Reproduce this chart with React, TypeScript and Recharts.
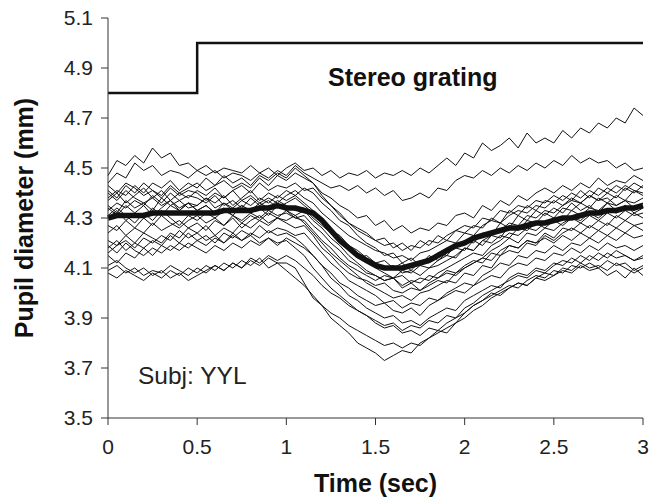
import { LineChart, Line, XAxis, YAxis, Label } from 'recharts';

// time in seconds, one sample every 50 ms
const times = [
  0, 0.05, 0.1, 0.15, 0.2, 0.25, 0.3, 0.35, 0.4, 0.45,
  0.5, 0.55, 0.6, 0.65, 0.7, 0.75, 0.8, 0.85, 0.9, 0.95,
  1, 1.05, 1.1, 1.15, 1.2, 1.25, 1.3, 1.35, 1.4, 1.45,
  1.5, 1.55, 1.6, 1.65, 1.7, 1.75, 1.8, 1.85, 1.9, 1.95,
  2, 2.05, 2.1, 2.15, 2.2, 2.25, 2.3, 2.35, 2.4, 2.45,
  2.5, 2.55, 2.6, 2.65, 2.7, 2.75, 2.8, 2.85, 2.9, 2.95,
  3,
];

// average over trials (thick line)
const meanTrace = [
  4.30, 4.31, 4.31, 4.31, 4.31, 4.32, 4.32, 4.32, 4.32, 4.32,
  4.32, 4.32, 4.32, 4.33, 4.33, 4.33, 4.33, 4.34, 4.34, 4.35,
  4.34, 4.34, 4.33, 4.32, 4.29, 4.25, 4.21, 4.18, 4.15, 4.13,
  4.11, 4.10, 4.10, 4.10, 4.11, 4.12, 4.13, 4.15, 4.17, 4.19,
  4.20, 4.22, 4.23, 4.24, 4.25, 4.26, 4.26, 4.27, 4.28, 4.28,
  4.29, 4.30, 4.30, 4.31, 4.32, 4.32, 4.33, 4.33, 4.34, 4.34,
  4.35,
];

// single trials (thin lines)
const trial01 = [
  4.47, 4.53, 4.51, 4.55, 4.52, 4.58, 4.54, 4.56, 4.51, 4.52,
  4.49, 4.51, 4.48, 4.50, 4.49, 4.48, 4.51, 4.48, 4.50, 4.47,
  4.50, 4.52, 4.49, 4.50, 4.47, 4.49, 4.46, 4.48, 4.47, 4.49,
  4.46, 4.48, 4.47, 4.49, 4.47, 4.50, 4.48, 4.51, 4.54, 4.51,
  4.56, 4.54, 4.60, 4.57, 4.59, 4.62, 4.58, 4.64, 4.60, 4.62,
  4.60, 4.65, 4.62, 4.66, 4.64, 4.68, 4.66, 4.70, 4.68, 4.74,
  4.71,
];
const trial02 = [
  4.44, 4.48, 4.46, 4.52, 4.49, 4.51, 4.47, 4.49, 4.48, 4.46,
  4.49, 4.47, 4.49, 4.46, 4.48, 4.47, 4.45, 4.48, 4.46, 4.49,
  4.47, 4.51, 4.48, 4.46, 4.44, 4.42, 4.43, 4.41, 4.43, 4.40,
  4.42, 4.39, 4.41, 4.37, 4.38, 4.40, 4.38, 4.42, 4.41, 4.45,
  4.47, 4.46, 4.49, 4.47, 4.50, 4.48, 4.51, 4.49, 4.52, 4.50,
  4.53, 4.51, 4.55, 4.52, 4.54, 4.52, 4.53, 4.50, 4.52, 4.49,
  4.50,
];
const trial03 = [
  4.41, 4.38, 4.43, 4.40, 4.44, 4.41, 4.39, 4.43, 4.40, 4.42,
  4.44, 4.41, 4.43, 4.45, 4.42, 4.44, 4.42, 4.46, 4.43, 4.47,
  4.45, 4.48, 4.46, 4.44, 4.40, 4.38, 4.35, 4.33, 4.30, 4.31,
  4.27, 4.29, 4.25, 4.27, 4.24, 4.26, 4.25, 4.28, 4.27, 4.31,
  4.32, 4.30, 4.35, 4.33, 4.37, 4.35, 4.39, 4.37, 4.40, 4.42,
  4.40, 4.43, 4.41, 4.44, 4.42, 4.46, 4.43, 4.45, 4.44, 4.47,
  4.45,
];
const trial04 = [
  4.37, 4.40, 4.36, 4.39, 4.42, 4.38, 4.41, 4.37, 4.40, 4.38,
  4.41, 4.39, 4.42, 4.38, 4.41, 4.43, 4.40, 4.44, 4.41, 4.43,
  4.42, 4.44, 4.41, 4.42, 4.38, 4.35, 4.32, 4.28, 4.26, 4.24,
  4.21, 4.22, 4.18, 4.20, 4.17, 4.21, 4.19, 4.23, 4.21, 4.25,
  4.24, 4.27, 4.26, 4.30, 4.28, 4.33, 4.31, 4.35, 4.33, 4.37,
  4.36, 4.39, 4.37, 4.41, 4.38, 4.42, 4.40, 4.43, 4.41, 4.44,
  4.42,
];
const trial05 = [
  4.35, 4.32, 4.37, 4.34, 4.36, 4.33, 4.38, 4.35, 4.37, 4.34,
  4.35, 4.38, 4.36, 4.39, 4.35, 4.38, 4.41, 4.37, 4.40, 4.38,
  4.41, 4.39, 4.42, 4.40, 4.36, 4.33, 4.29, 4.27, 4.23, 4.20,
  4.18, 4.15, 4.16, 4.12, 4.14, 4.11, 4.15, 4.13, 4.16, 4.18,
  4.17, 4.21, 4.19, 4.23, 4.22, 4.27, 4.25, 4.29, 4.28, 4.32,
  4.30, 4.34, 4.33, 4.36, 4.34, 4.38, 4.36, 4.39, 4.37, 4.41,
  4.40,
];
const trial06 = [
  4.33, 4.36, 4.34, 4.37, 4.35, 4.39, 4.36, 4.40, 4.37, 4.39,
  4.38, 4.36, 4.39, 4.35, 4.37, 4.34, 4.38, 4.35, 4.37, 4.34,
  4.36, 4.38, 4.35, 4.32, 4.29, 4.25, 4.23, 4.19, 4.17, 4.14,
  4.12, 4.10, 4.11, 4.08, 4.09, 4.07, 4.10, 4.11, 4.13, 4.15,
  4.18, 4.17, 4.21, 4.23, 4.25, 4.28, 4.27, 4.31, 4.30, 4.33,
  4.32, 4.35, 4.37, 4.36, 4.39, 4.37, 4.40, 4.38, 4.42, 4.40,
  4.43,
];
const trial07 = [
  4.34, 4.31, 4.35, 4.32, 4.30, 4.34, 4.31, 4.35, 4.33, 4.36,
  4.33, 4.35, 4.32, 4.36, 4.34, 4.37, 4.35, 4.38, 4.36, 4.39,
  4.37, 4.39, 4.36, 4.33, 4.29, 4.26, 4.22, 4.19, 4.15, 4.13,
  4.10, 4.08, 4.06, 4.07, 4.04, 4.06, 4.05, 4.08, 4.10, 4.12,
  4.14, 4.16, 4.15, 4.19, 4.21, 4.24, 4.23, 4.26, 4.25, 4.28,
  4.30, 4.29, 4.33, 4.31, 4.34, 4.33, 4.36, 4.35, 4.37, 4.36,
  4.38,
];
const trial08 = [
  4.30, 4.33, 4.29, 4.32, 4.35, 4.31, 4.34, 4.37, 4.33, 4.36,
  4.35, 4.38, 4.34, 4.36, 4.33, 4.35, 4.32, 4.34, 4.31, 4.35,
  4.33, 4.31, 4.33, 4.29, 4.26, 4.22, 4.19, 4.15, 4.12, 4.09,
  4.07, 4.05, 4.06, 4.02, 4.04, 4.01, 4.03, 4.05, 4.04, 4.08,
  4.10, 4.12, 4.14, 4.17, 4.19, 4.22, 4.20, 4.24, 4.23, 4.26,
  4.25, 4.28, 4.30, 4.29, 4.32, 4.30, 4.33, 4.32, 4.35, 4.33,
  4.36,
];
const trial09 = [
  4.40, 4.37, 4.41, 4.38, 4.36, 4.38, 4.35, 4.37, 4.34, 4.36,
  4.33, 4.35, 4.32, 4.34, 4.31, 4.35, 4.33, 4.36, 4.34, 4.37,
  4.35, 4.33, 4.34, 4.30, 4.27, 4.24, 4.20, 4.18, 4.14, 4.15,
  4.12, 4.13, 4.10, 4.12, 4.09, 4.13, 4.12, 4.16, 4.15, 4.19,
  4.21, 4.20, 4.24, 4.23, 4.28, 4.26, 4.31, 4.29, 4.33, 4.31,
  4.34, 4.32, 4.36, 4.33, 4.35, 4.32, 4.36, 4.33, 4.35, 4.32,
  4.34,
];
const trial10 = [
  4.27, 4.25, 4.29, 4.26, 4.30, 4.27, 4.31, 4.28, 4.26, 4.29,
  4.31, 4.28, 4.30, 4.27, 4.31, 4.29, 4.32, 4.30, 4.33, 4.31,
  4.32, 4.30, 4.31, 4.27, 4.24, 4.20, 4.17, 4.13, 4.11, 4.08,
  4.07, 4.05, 4.06, 4.03, 4.05, 4.04, 4.07, 4.06, 4.09, 4.08,
  4.11, 4.13, 4.12, 4.16, 4.15, 4.19, 4.18, 4.21, 4.20, 4.24,
  4.22, 4.26, 4.25, 4.28, 4.26, 4.29, 4.27, 4.31, 4.29, 4.32,
  4.30,
];
const trial11 = [
  4.24, 4.27, 4.23, 4.26, 4.24, 4.28, 4.25, 4.27, 4.29, 4.26,
  4.28, 4.25, 4.29, 4.27, 4.30, 4.26, 4.29, 4.31, 4.28, 4.30,
  4.29, 4.31, 4.28, 4.24, 4.20, 4.16, 4.13, 4.10, 4.07, 4.04,
  4.02, 4.00, 3.98, 3.99, 3.97, 4.00, 4.01, 4.03, 4.05, 4.04,
  4.08, 4.07, 4.11, 4.10, 4.15, 4.17, 4.16, 4.20, 4.19, 4.23,
  4.21, 4.24, 4.26, 4.24, 4.27, 4.25, 4.28, 4.26, 4.29, 4.27,
  4.28,
];
const trial12 = [
  4.21, 4.19, 4.23, 4.20, 4.24, 4.22, 4.20, 4.24, 4.22, 4.26,
  4.24, 4.27, 4.23, 4.26, 4.24, 4.28, 4.26, 4.29, 4.27, 4.30,
  4.28, 4.26, 4.27, 4.23, 4.18, 4.15, 4.11, 4.08, 4.06, 4.05,
  4.03, 4.04, 4.01, 4.00, 4.02, 4.01, 4.04, 4.06, 4.08, 4.07,
  4.10, 4.12, 4.14, 4.13, 4.17, 4.19, 4.18, 4.21, 4.20, 4.22,
  4.20, 4.23, 4.21, 4.24, 4.22, 4.25, 4.23, 4.26, 4.24, 4.27,
  4.25,
];
const trial13 = [
  4.18, 4.21, 4.17, 4.20, 4.18, 4.21, 4.19, 4.23, 4.20, 4.24,
  4.21, 4.23, 4.20, 4.24, 4.22, 4.25, 4.23, 4.27, 4.24, 4.26,
  4.25, 4.23, 4.24, 4.20, 4.16, 4.12, 4.09, 4.05, 4.03, 4.01,
  3.99, 3.96, 3.97, 3.94, 3.96, 3.95, 3.98, 3.97, 4.00, 4.02,
  4.04, 4.03, 4.07, 4.09, 4.12, 4.11, 4.15, 4.14, 4.17, 4.16,
  4.19, 4.17, 4.20, 4.19, 4.22, 4.20, 4.23, 4.21, 4.24, 4.22,
  4.23,
];
const trial14 = [
  4.16, 4.19, 4.21, 4.18, 4.22, 4.20, 4.23, 4.21, 4.25, 4.22,
  4.24, 4.21, 4.23, 4.20, 4.24, 4.21, 4.23, 4.20, 4.22, 4.19,
  4.22, 4.20, 4.18, 4.15, 4.11, 4.08, 4.04, 4.02, 3.99, 3.97,
  3.95, 3.96, 3.93, 3.92, 3.94, 3.91, 3.95, 3.97, 3.99, 4.01,
  4.00, 4.03, 4.05, 4.07, 4.06, 4.10, 4.12, 4.11, 4.14, 4.13,
  4.16, 4.15, 4.18, 4.16, 4.19, 4.17, 4.20, 4.18, 4.19, 4.17,
  4.19,
];
const trial15 = [
  4.15, 4.12, 4.16, 4.14, 4.18, 4.15, 4.19, 4.17, 4.20, 4.18,
  4.21, 4.19, 4.22, 4.20, 4.23, 4.21, 4.24, 4.22, 4.25, 4.23,
  4.24, 4.22, 4.19, 4.15, 4.11, 4.06, 4.03, 3.99, 3.97, 3.94,
  3.92, 3.90, 3.91, 3.88, 3.89, 3.87, 3.90, 3.92, 3.94, 3.93,
  3.97, 3.99, 4.01, 4.03, 4.02, 4.06, 4.08, 4.07, 4.10, 4.09,
  4.12, 4.11, 4.14, 4.12, 4.15, 4.13, 4.16, 4.14, 4.15, 4.13,
  4.14,
];
const trial16 = [
  4.19, 4.16, 4.20, 4.17, 4.15, 4.18, 4.16, 4.19, 4.17, 4.20,
  4.18, 4.16, 4.19, 4.17, 4.20, 4.18, 4.21, 4.19, 4.22, 4.20,
  4.21, 4.18, 4.15, 4.10, 4.06, 4.02, 3.99, 3.96, 3.93, 3.91,
  3.88, 3.86, 3.87, 3.84, 3.85, 3.83, 3.86, 3.85, 3.88, 3.90,
  3.92, 3.95, 3.97, 3.99, 4.01, 4.03, 4.02, 4.05, 4.07, 4.06,
  4.09, 4.08, 4.11, 4.10, 4.12, 4.10, 4.13, 4.11, 4.12, 4.09,
  4.11,
];
const trial17 = [
  4.09, 4.11, 4.08, 4.10, 4.07, 4.09, 4.08, 4.11, 4.09, 4.07,
  4.10, 4.08, 4.11, 4.09, 4.12, 4.10, 4.13, 4.11, 4.14, 4.12,
  4.12, 4.10, 4.04, 3.98, 3.95, 3.92, 3.90, 3.87, 3.85, 3.83,
  3.81, 3.79, 3.80, 3.78, 3.80, 3.79, 3.82, 3.84, 3.86, 3.88,
  3.90, 3.93, 3.95, 3.98, 4.00, 4.02, 4.04, 4.03, 4.06, 4.08,
  4.07, 4.10, 4.09, 4.12, 4.10, 4.11, 4.09, 4.12, 4.10, 4.08,
  4.10,
];
const trial18 = [
  4.08, 4.06, 4.09, 4.07, 4.05, 4.08, 4.06, 4.09, 4.07, 4.10,
  4.08, 4.11, 4.09, 4.12, 4.10, 4.13, 4.11, 4.14, 4.10, 4.12,
  4.09, 4.06, 4.03, 3.99, 3.95, 3.90, 3.87, 3.84, 3.80, 3.78,
  3.76, 3.73, 3.75, 3.77, 3.76, 3.80, 3.82, 3.85, 3.84, 3.88,
  3.92, 3.95, 3.97, 4.00, 3.99, 4.02, 4.04, 4.03, 4.06, 4.05,
  4.07, 4.09, 4.08, 4.11, 4.09, 4.10, 4.07, 4.09, 4.06, 4.10,
  4.07,
];
const trial19 = [
  4.11, 4.13, 4.10, 4.08, 4.10, 4.07, 4.09, 4.06, 4.08, 4.05,
  4.07, 4.09, 4.11, 4.09, 4.12, 4.10, 4.14, 4.12, 4.15, 4.13,
  4.15, 4.13, 4.10, 4.07, 4.03, 4.00, 3.98, 3.95, 3.93, 3.91,
  3.89, 3.87, 3.88, 3.85, 3.87, 3.86, 3.89, 3.88, 3.91, 3.90,
  3.94, 3.96, 3.99, 4.01, 4.03, 4.05, 4.07, 4.06, 4.09, 4.08,
  4.11, 4.13, 4.12, 4.15, 4.13, 4.16, 4.14, 4.17, 4.15, 4.13,
  4.15,
];
const trial20 = [
  4.43, 4.40, 4.44, 4.42, 4.39, 4.41, 4.38, 4.42, 4.39, 4.41,
  4.40, 4.37, 4.40, 4.38, 4.41, 4.37, 4.39, 4.36, 4.38, 4.36,
  4.39, 4.41, 4.38, 4.36, 4.32, 4.29, 4.26, 4.23, 4.21, 4.19,
  4.17, 4.16, 4.14, 4.15, 4.13, 4.16, 4.17, 4.19, 4.21, 4.20,
  4.24, 4.23, 4.27, 4.29, 4.28, 4.31, 4.33, 4.32, 4.35, 4.34,
  4.37, 4.35, 4.38, 4.36, 4.39, 4.37, 4.38, 4.35, 4.37, 4.34,
  4.36,
];
const trial21 = [
  4.38, 4.41, 4.39, 4.43, 4.40, 4.44, 4.42, 4.45, 4.41, 4.44,
  4.42, 4.46, 4.43, 4.47, 4.44, 4.46, 4.43, 4.47, 4.45, 4.48,
  4.46, 4.50, 4.47, 4.44, 4.39, 4.35, 4.31, 4.28, 4.25, 4.23,
  4.21, 4.19, 4.20, 4.17, 4.19, 4.18, 4.21, 4.20, 4.23, 4.25,
  4.27, 4.26, 4.30, 4.29, 4.33, 4.32, 4.35, 4.34, 4.37, 4.36,
  4.39, 4.37, 4.40, 4.38, 4.41, 4.39, 4.42, 4.40, 4.43, 4.41,
  4.39,
];
const trial22 = [
  4.31, 4.34, 4.31, 4.28, 4.32, 4.29, 4.33, 4.30, 4.27, 4.31,
  4.29, 4.32, 4.30, 4.33, 4.31, 4.28, 4.31, 4.29, 4.32, 4.30,
  4.33, 4.30, 4.29, 4.25, 4.21, 4.18, 4.14, 4.11, 4.09, 4.07,
  4.05, 4.07, 4.06, 4.09, 4.08, 4.11, 4.10, 4.13, 4.15, 4.14,
  4.18, 4.17, 4.21, 4.20, 4.23, 4.22, 4.26, 4.25, 4.28, 4.26,
  4.29, 4.27, 4.30, 4.28, 4.31, 4.29, 4.32, 4.30, 4.33, 4.31,
  4.32,
];

const trials = [
  trial01, trial02, trial03, trial04, trial05, trial06, trial07, trial08,
  trial09, trial10, trial11, trial12, trial13, trial14, trial15, trial16,
  trial17, trial18, trial19, trial20, trial21, trial22,
];

// stimulus trace: grating switches on at 0.5 s
const stimTimes = [0, 0.5, 3];
const stimLevels = [4.8, 5.0, 5.0];

const xTicks = [0, 0.5, 1, 1.5, 2, 2.5, 3];
const yTicks = [3.5, 3.7, 3.9, 4.1, 4.3, 4.5, 4.7, 4.9, 5.1];

const rows = times.map((t, i) => {
  const row: Record<string, number> = { t, mean: meanTrace[i] };
  trials.forEach((tr, k) => {
    row['s' + k] = tr[i];
  });
  return row;
});

const stimRows = stimTimes.map((t, i) => ({ t, stim: stimLevels[i] }));

const font = '"Liberation Sans", Arial, Helvetica, sans-serif';
const axisColor = '#333';

export default function App() {
  return (
    <div style={{ position: 'absolute', left: 0, top: 0 }}>
      <LineChart
        width={661}
        height={500}
        data={rows}
        margin={{ top: 18, right: 18, left: 0, bottom: 0 }}
        style={{ fontFamily: font }}
      >
        <XAxis
          dataKey="t"
          type="number"
          domain={[0, 3]}
          ticks={xTicks}
          height={82}
          tickSize={7}
          tickMargin={14}
          stroke={axisColor}
          tick={{ fill: '#222', fontSize: 21 }}
        >
          <Label
            value="Time (sec)"
            position="insideBottom"
            offset={8}
            style={{ fontSize: 25, fontWeight: 'bold', fill: '#111' }}
          />
        </XAxis>
        <YAxis
          type="number"
          domain={[3.5, 5.1]}
          ticks={yTicks}
          width={108}
          tickSize={7}
          tickMargin={8}
          stroke={axisColor}
          tick={{ fill: '#222', fontSize: 21 }}
          tickFormatter={(v: number) => v.toFixed(1)}
        >
          <Label
            value="Pupil diameter (mm)"
            angle={-90}
            position="insideLeft"
            offset={24}
            style={{ fontSize: 25, fontWeight: 'bold', fill: '#111', textAnchor: 'middle' }}
          />
        </YAxis>
        {trials.map((_, k) => (
          <Line
            key={k}
            dataKey={'s' + k}
            type="linear"
            stroke="#111"
            strokeWidth={1}
            dot={false}
            isAnimationActive={false}
          />
        ))}
        <Line
          dataKey="mean"
          type="linear"
          stroke="#111"
          strokeWidth={5.5}
          dot={false}
          isAnimationActive={false}
        />
        <Line
          data={stimRows}
          dataKey="stim"
          type="stepAfter"
          stroke="#111"
          strokeWidth={2.5}
          dot={false}
          isAnimationActive={false}
        />
        <text x={328} y={86} fontSize={25} fontWeight="bold" fill="#111" fontFamily={font}>
          Stereo grating
        </text>
        <text x={138} y={384} fontSize={24.5} fill="#222" fontFamily={font}>
          Subj: YYL
        </text>
      </LineChart>
    </div>
  );
}
